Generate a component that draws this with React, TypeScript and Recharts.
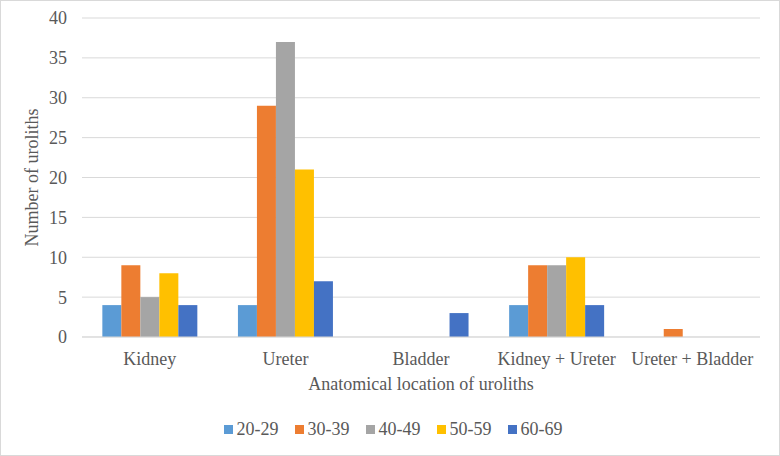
import React from 'react';
import { BarChart, Bar, XAxis, YAxis, CartesianGrid, Legend } from 'recharts';

const locations = ['Kidney', 'Ureter', 'Bladder', 'Kidney + Ureter', 'Ureter + Bladder'];
const ageGroups = ['20-29', '30-39', '40-49', '50-59', '60-69'];
const age20to29 = [4, 4, 0, 4, 0];
const age30to39 = [9, 29, 0, 9, 1];
const age40to49 = [5, 37, 0, 9, 0];
const age50to59 = [8, 21, 0, 10, 0];
const age60to69 = [4, 7, 3, 4, 0];
const yTicks = [0, 5, 10, 15, 20, 25, 30, 35, 40];

const seriesValues = [age20to29, age30to39, age40to49, age50to59, age60to69];
const colors = ['#5B9BD5', '#ED7D31', '#A5A5A5', '#FFC000', '#4472C4'];

const data = locations.map((loc, i) => {
  const row: Record<string, string | number> = { location: loc };
  ageGroups.forEach((g, j) => {
    row[g] = seriesValues[j][i];
  });
  return row;
});

const FONT = "'Liberation Serif', 'Times New Roman', serif";
const TEXT = '#595959';
const FS = 18;

const YTitle = (props: any) => {
  const vb = props.viewBox || {};
  const cx = 32;
  const cy = vb.y + vb.height / 2;
  return (
    <text
      x={cx}
      y={cy}
      transform={`rotate(-90, ${cx}, ${cy})`}
      textAnchor="middle"
      dominantBaseline="central"
      fill={TEXT}
      fontSize={FS}
      style={{ fontFamily: FONT }}
    >
      Number of uroliths
    </text>
  );
};

const LegendContent = () => (
  <div
    style={{
      display: 'flex',
      justifyContent: 'center',
      gap: 16,
      fontFamily: FONT,
      fontSize: FS,
      color: TEXT,
      paddingLeft: 6,
    }}
  >
    {ageGroups.map((g, i) => (
      <div key={g} style={{ display: 'flex', alignItems: 'center' }}>
        <span
          style={{
            display: 'inline-block',
            width: 9,
            height: 9,
            background: colors[i],
            marginRight: 4,
          }}
        />
        <span>{g}</span>
      </div>
    ))}
  </div>
);

const tickStyle = { fill: TEXT, fontSize: FS, style: { fontFamily: FONT } };

export default function App() {
  return (
    <div
      style={{
        position: 'absolute',
        left: 0,
        top: 0,
        width: 780,
        height: 456,
        background: '#fff',
        boxSizing: 'border-box',
        border: '1px solid #d9d9d9',
        fontFamily: FONT,
      }}
    >
      <div style={{ position: 'absolute', left: -1, top: -1 }}>
        <BarChart
          width={780}
          height={456}
          data={data}
          margin={{ top: 18, right: 20, left: 0, bottom: 59 }}
          barCategoryGap="15%"
          barGap={0}
          style={{ fontFamily: FONT }}
        >
          <CartesianGrid vertical={false} stroke="#d9d9d9" strokeWidth={1} />
          <XAxis
            dataKey="location"
            axisLine={{ stroke: '#d9d9d9' }}
            tickLine={false}
            tickSize={0}
            tickMargin={15}
            height={60}
            interval={0}
            tick={tickStyle}
            label={{
              value: 'Anatomical location of uroliths',
              position: 'insideBottom',
              offset: 7,
              fill: TEXT,
              fontSize: FS,
              style: { fontFamily: FONT },
            }}
          />
          <YAxis
            width={82}
            domain={[0, 40]}
            ticks={yTicks}
            axisLine={false}
            tickLine={false}
            tickSize={0}
            tickMargin={15}
            tick={tickStyle}
            label={<YTitle />}
          />
          <Legend
            verticalAlign="middle"
            content={<LegendContent />}
            wrapperStyle={{ top: 419, left: 0, width: 780 }}
          />
          {ageGroups.map((g, i) => (
            <Bar key={g} dataKey={g} fill={colors[i]} isAnimationActive={false} />
          ))}
        </BarChart>
      </div>
    </div>
  );
}
